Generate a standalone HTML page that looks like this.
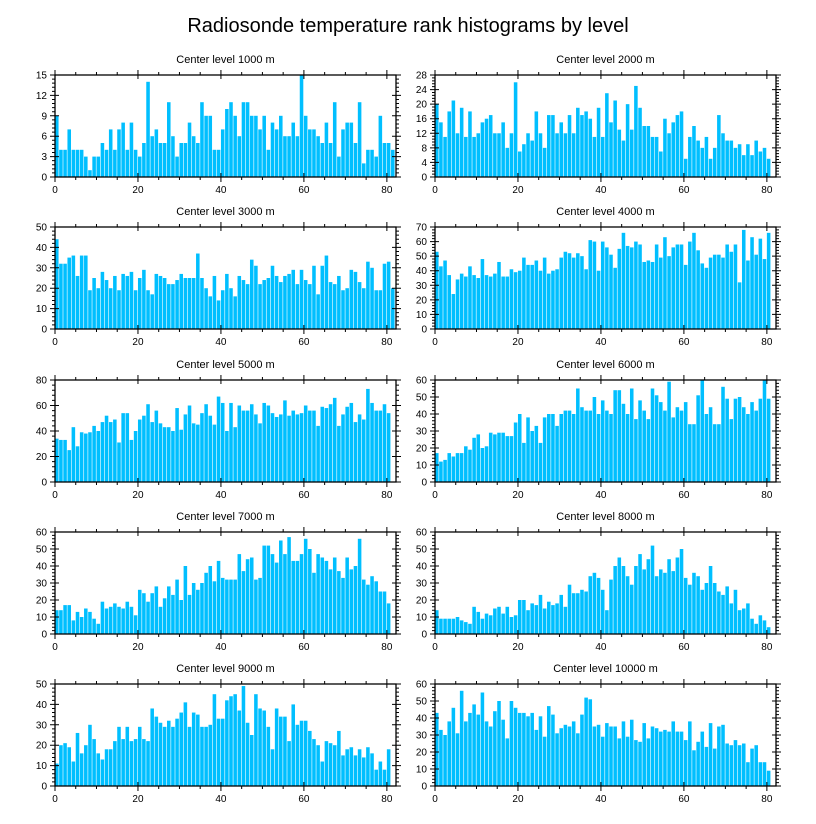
<!DOCTYPE html>
<html><head><meta charset="utf-8"><style>
html,body{margin:0;padding:0;background:#fff;}
svg{display:block;font-family:"Liberation Sans",Arial,sans-serif;}
</style></head><body>
<svg id="fig" width="816" height="824" viewBox="0 0 816 824">
<text x="408" y="32" text-anchor="middle" font-size="20" fill="#000">Radiosonde temperature rank histograms by level</text>
</svg>
<script>
const titles = ["Center level 1000 m","Center level 2000 m","Center level 3000 m","Center level 4000 m","Center level 5000 m","Center level 6000 m","Center level 7000 m","Center level 8000 m","Center level 9000 m","Center level 10000 m"];
const yMax = [15,28,50,70,80,60,60,60,50,60];
const yStep = [3,4,10,10,20,10,10,10,10,10];
const xTicks = [0,20,40,60,80];
const v1000 = [9,4,4,7,4,4,4,3,1,3,3,5,4,7,4,7,8,4,8,4,3,5,14,6,7,5,5,11,6,3,5,5,8,6,5,11,9,9,4,4,7,10,11,9,6,11,11,9,9,7,9,4,8,7,9,6,6,8,6,15,9,7,7,6,5,8,5,11,3,7,8,8,5,11,2,4,4,3,9,5,5,4];
const v2000 = [20,15,11,18,21,12,19,11,18,11,12,15,16,17,12,12,15,8,12,26,7,9,12,10,18,12,8,17,17,12,15,12,17,12,19,17,18,16,11,19,11,23,15,21,13,10,20,13,25,19,14,14,11,11,7,16,12,15,17,18,5,11,14,10,8,11,5,8,17,12,10,10,8,9,6,9,6,10,7,8,5];
const v3000 = [44,32,32,35,36,26,36,36,19,25,20,28,24,20,26,19,27,26,28,19,25,29,19,17,27,26,25,22,22,24,27,25,25,25,37,25,20,16,26,14,19,27,20,16,26,24,22,34,31,22,24,25,31,26,23,26,27,29,22,29,24,22,31,17,31,36,23,22,26,19,20,29,28,23,20,33,30,19,19,32,33,20];
const v4000 = [53,43,47,37,24,34,38,36,43,37,35,48,37,36,38,46,36,36,41,39,40,49,44,44,47,40,49,38,40,41,49,53,52,49,52,50,41,61,60,40,60,56,51,42,55,66,57,56,60,58,46,47,46,58,49,63,50,56,58,58,44,60,66,54,45,42,49,51,51,49,58,53,58,32,68,47,63,51,62,48,66];
const v5000 = [34,33,33,25,43,28,39,38,39,44,40,47,52,47,49,31,54,54,33,40,49,52,61,47,56,46,43,43,40,58,41,53,60,46,45,54,61,52,45,67,62,40,62,43,60,56,56,61,53,46,62,60,54,51,53,64,52,56,53,54,60,56,56,44,59,58,61,66,44,53,59,62,47,53,49,73,62,56,56,61,54];
const v6000 = [17,12,13,17,15,17,17,21,19,26,28,20,21,29,28,29,29,27,27,35,40,23,38,30,33,23,38,40,40,33,40,42,42,40,55,44,42,42,50,40,48,42,40,54,54,46,40,55,37,48,42,37,55,51,47,42,59,38,44,42,47,34,34,51,60,40,44,34,34,56,49,37,49,50,44,40,47,42,49,60,49];
const v7000 = [14,14,17,17,8,13,10,15,13,9,6,19,15,16,18,16,15,19,16,11,26,24,19,24,28,16,21,28,23,32,20,40,23,30,26,30,36,40,31,43,33,32,32,32,47,37,44,45,32,33,52,52,47,42,55,47,57,43,43,47,56,50,36,47,45,43,38,45,37,33,45,38,40,56,32,29,34,31,25,25,18];
const v8000 = [14,9,9,9,9,10,8,7,6,16,13,9,12,11,15,16,12,16,10,11,20,20,14,18,17,23,15,19,17,18,23,16,29,24,24,26,25,34,36,33,26,14,32,40,45,40,34,29,40,47,38,44,52,34,38,36,44,37,45,50,33,29,36,34,26,30,40,30,25,23,28,18,26,14,15,18,9,6,11,8,4];
const v9000 = [11,20,21,19,12,26,16,20,30,23,16,13,18,18,22,29,23,29,22,23,29,23,22,38,34,31,29,32,29,33,36,41,29,36,35,29,29,30,45,33,33,42,44,45,37,49,31,25,45,38,37,29,18,38,34,34,22,40,30,32,32,27,23,20,12,22,21,20,27,15,18,19,15,18,14,19,16,8,12,8,18];
const v10000 = [43,33,30,38,46,31,56,38,43,48,42,55,38,35,44,50,39,28,50,46,43,43,41,43,33,41,29,47,42,31,34,36,35,38,31,42,52,51,35,36,29,37,35,35,28,38,29,39,27,26,37,28,35,34,32,33,32,38,32,32,27,38,21,26,32,23,37,22,35,36,25,24,27,24,25,14,22,24,14,14,9];
const series = [v1000,v2000,v3000,v4000,v5000,v6000,v7000,v8000,v9000,v10000];

const NS = "http://www.w3.org/2000/svg";
const svg = document.getElementById("fig");
function mk(tag, attrs, parent) {
  const e = document.createElementNS(NS, tag);
  for (const k in attrs) e.setAttribute(k, attrs[k]);
  parent.appendChild(e);
  return e;
}
const colX = [55, 435];
const rowY = [75, 227, 380, 532, 684];
const PW = 341, PH = 102, XMAX = 82.2;

for (let p = 0; p < 10; p++) {
  const x0 = colX[p % 2], y0 = rowY[Math.floor(p / 2)];
  const g = mk("g", {}, svg);
  
  
  const xs = v => x0 + v / XMAX * PW;
  const ys = v => y0 + PH - v / yMax[p] * PH;
  const t = mk("text", {x: x0 + PW / 2, y: y0 - 12, "text-anchor": "middle", "font-size": "11"}, g);
  t.textContent = titles[p];
  
  
  const vals = series[p];
  for (let i = 0; i < vals.length; i++) {
    const bx = xs(i), bw = xs(i + 1) - xs(i) - 0.6;
    const r = mk("rect", {x: bx, y: ys(vals[i]), width: bw, height: ys(0) - ys(vals[i]), fill: "#00BFFF"}, g);
    
    
  }
  const fr = mk("rect", {x: x0, y: y0, width: PW, height: PH, fill: "none", stroke: "#000", "stroke-width": "1.3"}, g);
  
  
  let d = "";
  for (let v = 0; v <= 80; v += 5) {
    const X = xs(v), maj = v % 20 === 0;
    if (maj) { d += `M${X} ${y0 + PH + 5}V${y0 + PH - 4}M${X} ${y0 - 5}V${y0 + 4}`; }
    else { d += `M${X} ${y0 + PH + 3}V${y0 + PH}M${X} ${y0 - 3}V${y0}`; }
  }
  const ms = yStep[p] / 5;
  for (let k = 0; k * ms <= yMax[p] + 1e-6; k++) {
    const Y = ys(k * ms), maj = k % 5 === 0;
    if (maj) { d += `M${x0 - 5} ${Y}H${x0 + 4}M${x0 + PW + 5} ${Y}H${x0 + PW - 4}`; }
    else { d += `M${x0 - 3} ${Y}H${x0}M${x0 + PW + 3} ${Y}H${x0 + PW}`; }
  }
  mk("path", {d: d, stroke: "#000", "stroke-width": "1", fill: "none"}, g);
  for (const v of xTicks) {
    const l = mk("text", {x: xs(v), y: y0 + PH + 16, "text-anchor": "middle", "font-size": "10"}, g);
    l.textContent = v;
    
    
  }
  for (let v = 0; v <= yMax[p]; v += yStep[p]) {
    const l = mk("text", {x: x0 - 8, y: ys(v) + 3.5, "text-anchor": "end", "font-size": "10"}, g);
    l.textContent = v;
    
    
  }
}
</script>
</body></html>
